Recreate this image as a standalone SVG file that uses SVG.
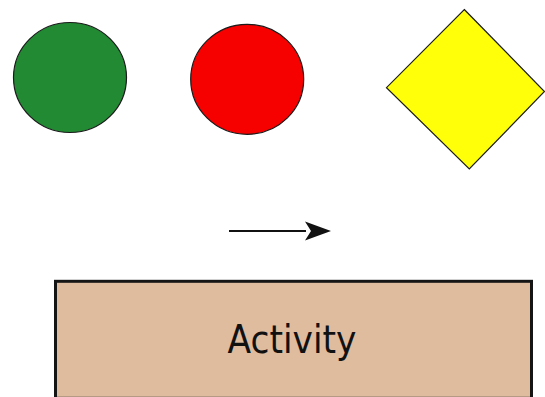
<svg xmlns="http://www.w3.org/2000/svg" width="545" height="397" viewBox="0 0 545 397">
  <style>
    .shape { stroke: #1a1a1a; stroke-width: 1.2; }
    .label { font-family: "DejaVu Sans", "Liberation Sans", sans-serif; font-size: 34.5px; fill: #111; text-anchor: middle; }
  </style>
  <rect width="545" height="397" fill="#ffffff"/>
  <g id="start-node">
    <ellipse class="shape" cx="70" cy="77.5" rx="56.5" ry="55" fill="#218a33"/>
  </g>
  <g id="end-node">
    <ellipse class="shape" cx="247.2" cy="79.3" rx="56.5" ry="55" fill="#f60000"/>
  </g>
  <g id="decision-node">
    <polygon class="shape" points="464.3,9.5 544.5,91.5 469.3,169 386.5,87.7" fill="#ffff0a" stroke="#444"/>
  </g>
  <g id="connectors">
    <line x1="229" y1="231" x2="306" y2="231" stroke="#111" stroke-width="2.2"/>
    <path d="M305,221.5 L331,231 L305,240.5 L311,231 Z" fill="#111"/>
  </g>
  <g id="activity-node">
    <rect x="55.5" y="281.3" width="476" height="117" fill="#e0bc9f" stroke="#151515" stroke-width="3"/>
    <!-- label is drawn slightly taller than wide -->
    <text class="label" x="0" y="0" transform="translate(292,353.3) scale(1,1.12)">Activity</text>
  </g>
</svg>
